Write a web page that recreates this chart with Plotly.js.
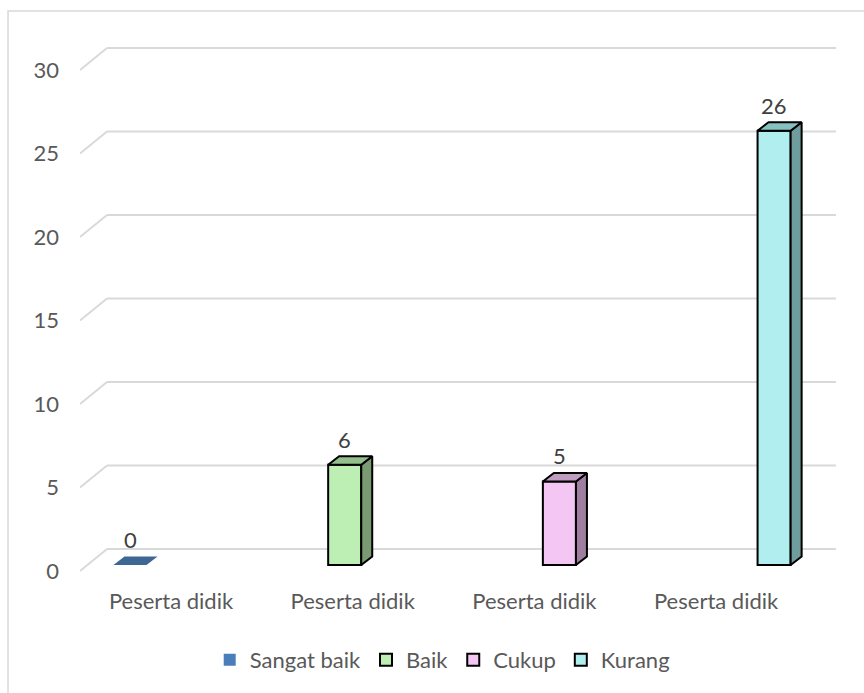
<!DOCTYPE html>
<html>
<head>
<meta charset="utf-8">
<script src="https://cdn.plot.ly/plotly-3.0.1.min.js"></script>
<style>
  html, body { margin: 0; padding: 0; background: #ffffff; }
  #chart { width: 864px; height: 693px; }
</style>
</head>
<body>
<div id="chart"></div>
<script>
// ---- data ----
const categories   = ['Peserta didik', 'Peserta didik', 'Peserta didik', 'Peserta didik'];
const seriesNames  = ['Sangat baik', 'Baik', 'Cukup', 'Kurang'];
const seriesValues = [0, 6, 5, 26];
const yTicks       = [0, 5, 10, 15, 20, 25, 30];

// ---- colours (front / top / side faces) ----
const frontColors = ['#4a7ebb', '#bdefb4', '#f3c6f3', '#b0eef0'];
const topColors   = ['#3e6794', '#94bf8c', '#c19cc1', '#86c1c1'];
const sideColors  = ['#3e6794', '#7a9a72', '#9f7f9f', '#6f9c9c'];

// ---- pseudo-3D geometry, in axis units ----
const X_RANGE  = [-0.2329, 3.4187];
const Y_RANGE  = [-0.2395, 31.796];
const BAR_W    = 0.154;   // width of a bar's front face
const BAR_BASE = 0.36;    // bars stand a little behind the floor's front edge
const BAR_DX   = 0.0512;  // bar depth, horizontal part
const BAR_DY   = 0.51;    // bar depth, vertical part
const WALL_DX  = 0.1258;  // floor depth to the back wall, horizontal part
const WALL_DY  = 1.317;   // floor depth to the back wall, vertical part
const WALL_END = 3.288;   // right end of the back-wall gridlines

const GRID = '#d9d9d9';
const TEXT = '#595959';
const FONT = 'Lato, "Open Sans", sans-serif';
const FSIZE = 22;

const traces = [];

// front faces: real bar traces (these also give the legend squares)
seriesValues.forEach((v, i) => {
  traces.push({
    type: 'bar',
    name: seriesNames[i],
    x: [i],
    y: [v],
    base: [BAR_BASE],
    width: [BAR_W],
    marker: {
      color: frontColors[i],
      line: { color: '#000000', width: v === 0 ? 0 : 2 }
    },
    hoverinfo: 'skip'
  });
});

// side and top faces drawn as filled polygons
seriesValues.forEach((v, i) => {
  const xl = i - BAR_W / 2, xr = i + BAR_W / 2;
  const b = BAR_BASE, t = BAR_BASE + v;
  const lw = v === 0 ? 0 : 2;
  if (v > 0) {
    traces.push({
      type: 'scatter', mode: 'lines', fill: 'toself',
      x: [xr, xr + BAR_DX, xr + BAR_DX, xr, xr],
      y: [b, b + BAR_DY, t + BAR_DY, t, b],
      fillcolor: sideColors[i],
      line: { color: '#000000', width: lw },
      showlegend: false, hoverinfo: 'skip'
    });
  }
  traces.push({
    type: 'scatter', mode: 'lines', fill: 'toself',
    x: [xl, xl + BAR_DX, xr + BAR_DX, xr, xl],
    y: [t, t + BAR_DY, t + BAR_DY, t, t],
    fillcolor: topColors[i],
    line: { color: '#000000', width: lw },
    showlegend: false, hoverinfo: 'skip'
  });
});

// carrier for the category axis
traces.push({
  type: 'scatter', mode: 'markers',
  x: categories.map((c, i) => i),
  y: categories.map(() => null),
  xaxis: 'x2', yaxis: 'y',
  showlegend: false, hoverinfo: 'skip'
});

// gridlines: a short diagonal on the floor edge, then along the back wall
const shapes = [];
yTicks.forEach(v => {
  shapes.push({
    type: 'line', xref: 'x', yref: 'y', layer: 'below',
    x0: X_RANGE[0], y0: v, x1: X_RANGE[0] + WALL_DX, y1: v + WALL_DY,
    line: { color: GRID, width: 2 }
  });
  shapes.push({
    type: 'line', xref: 'x', yref: 'y', layer: 'below',
    x0: X_RANGE[0] + WALL_DX, y0: v + WALL_DY, x1: WALL_END, y1: v + WALL_DY,
    line: { color: GRID, width: 2 }
  });
});
// chart frame
shapes.push({
  type: 'rect', xref: 'paper', yref: 'paper', layer: 'below',
  x0: -0.0918, y0: -0.35, x1: 1.1, y1: 1.0542,
  line: { color: GRID, width: 1.5 }, fillcolor: 'rgba(0,0,0,0)'
});

// value labels above each bar
const annotations = seriesValues.map((v, i) => ({
  xref: 'x', yref: 'y',
  x: i, y: BAR_BASE + v + BAR_DY,
  text: String(v),
  showarrow: false,
  yanchor: 'middle', yshift: 17,
  font: { family: FONT, size: FSIZE, color: '#404040' }
}));

const layout = {
  width: 864, height: 693,
  margin: { l: 80, r: 0, t: 40, b: 118 },
  paper_bgcolor: '#ffffff',
  plot_bgcolor: 'rgba(0,0,0,0)',
  barmode: 'overlay',
  hovermode: false,
  font: { family: FONT, color: TEXT },
  xaxis: {
    range: X_RANGE, showgrid: false, zeroline: false,
    showline: false, showticklabels: false, ticks: '', fixedrange: true
  },
  xaxis2: {
    overlaying: 'x', anchor: 'y', side: 'bottom',
    range: [-0.5008, 3.814],
    tickvals: categories.map((c, i) => i),
    ticktext: categories,
    showgrid: false, zeroline: false, showline: false, ticks: '',
    ticklabelstandoff: 11,
    tickfont: { family: FONT, size: FSIZE, color: TEXT },
    fixedrange: true
  },
  yaxis: {
    range: Y_RANGE, tickvals: yTicks,
    showgrid: false, zeroline: false, showline: false, ticks: '',
    ticklabelstandoff: 20,
    tickfont: { family: FONT, size: FSIZE, color: TEXT },
    fixedrange: true
  },
  legend: {
    orientation: 'h',
    x: 0.462, xanchor: 'center',
    y: -0.159, yanchor: 'middle',
    font: { family: FONT, size: FSIZE, color: TEXT },
    itemwidth: 30,
    traceorder: 'normal'
  },
  shapes: shapes,
  annotations: annotations
};

Plotly.newPlot('chart', traces, layout, { staticPlot: true, displayModeBar: false });
</script>
</body>
</html>
